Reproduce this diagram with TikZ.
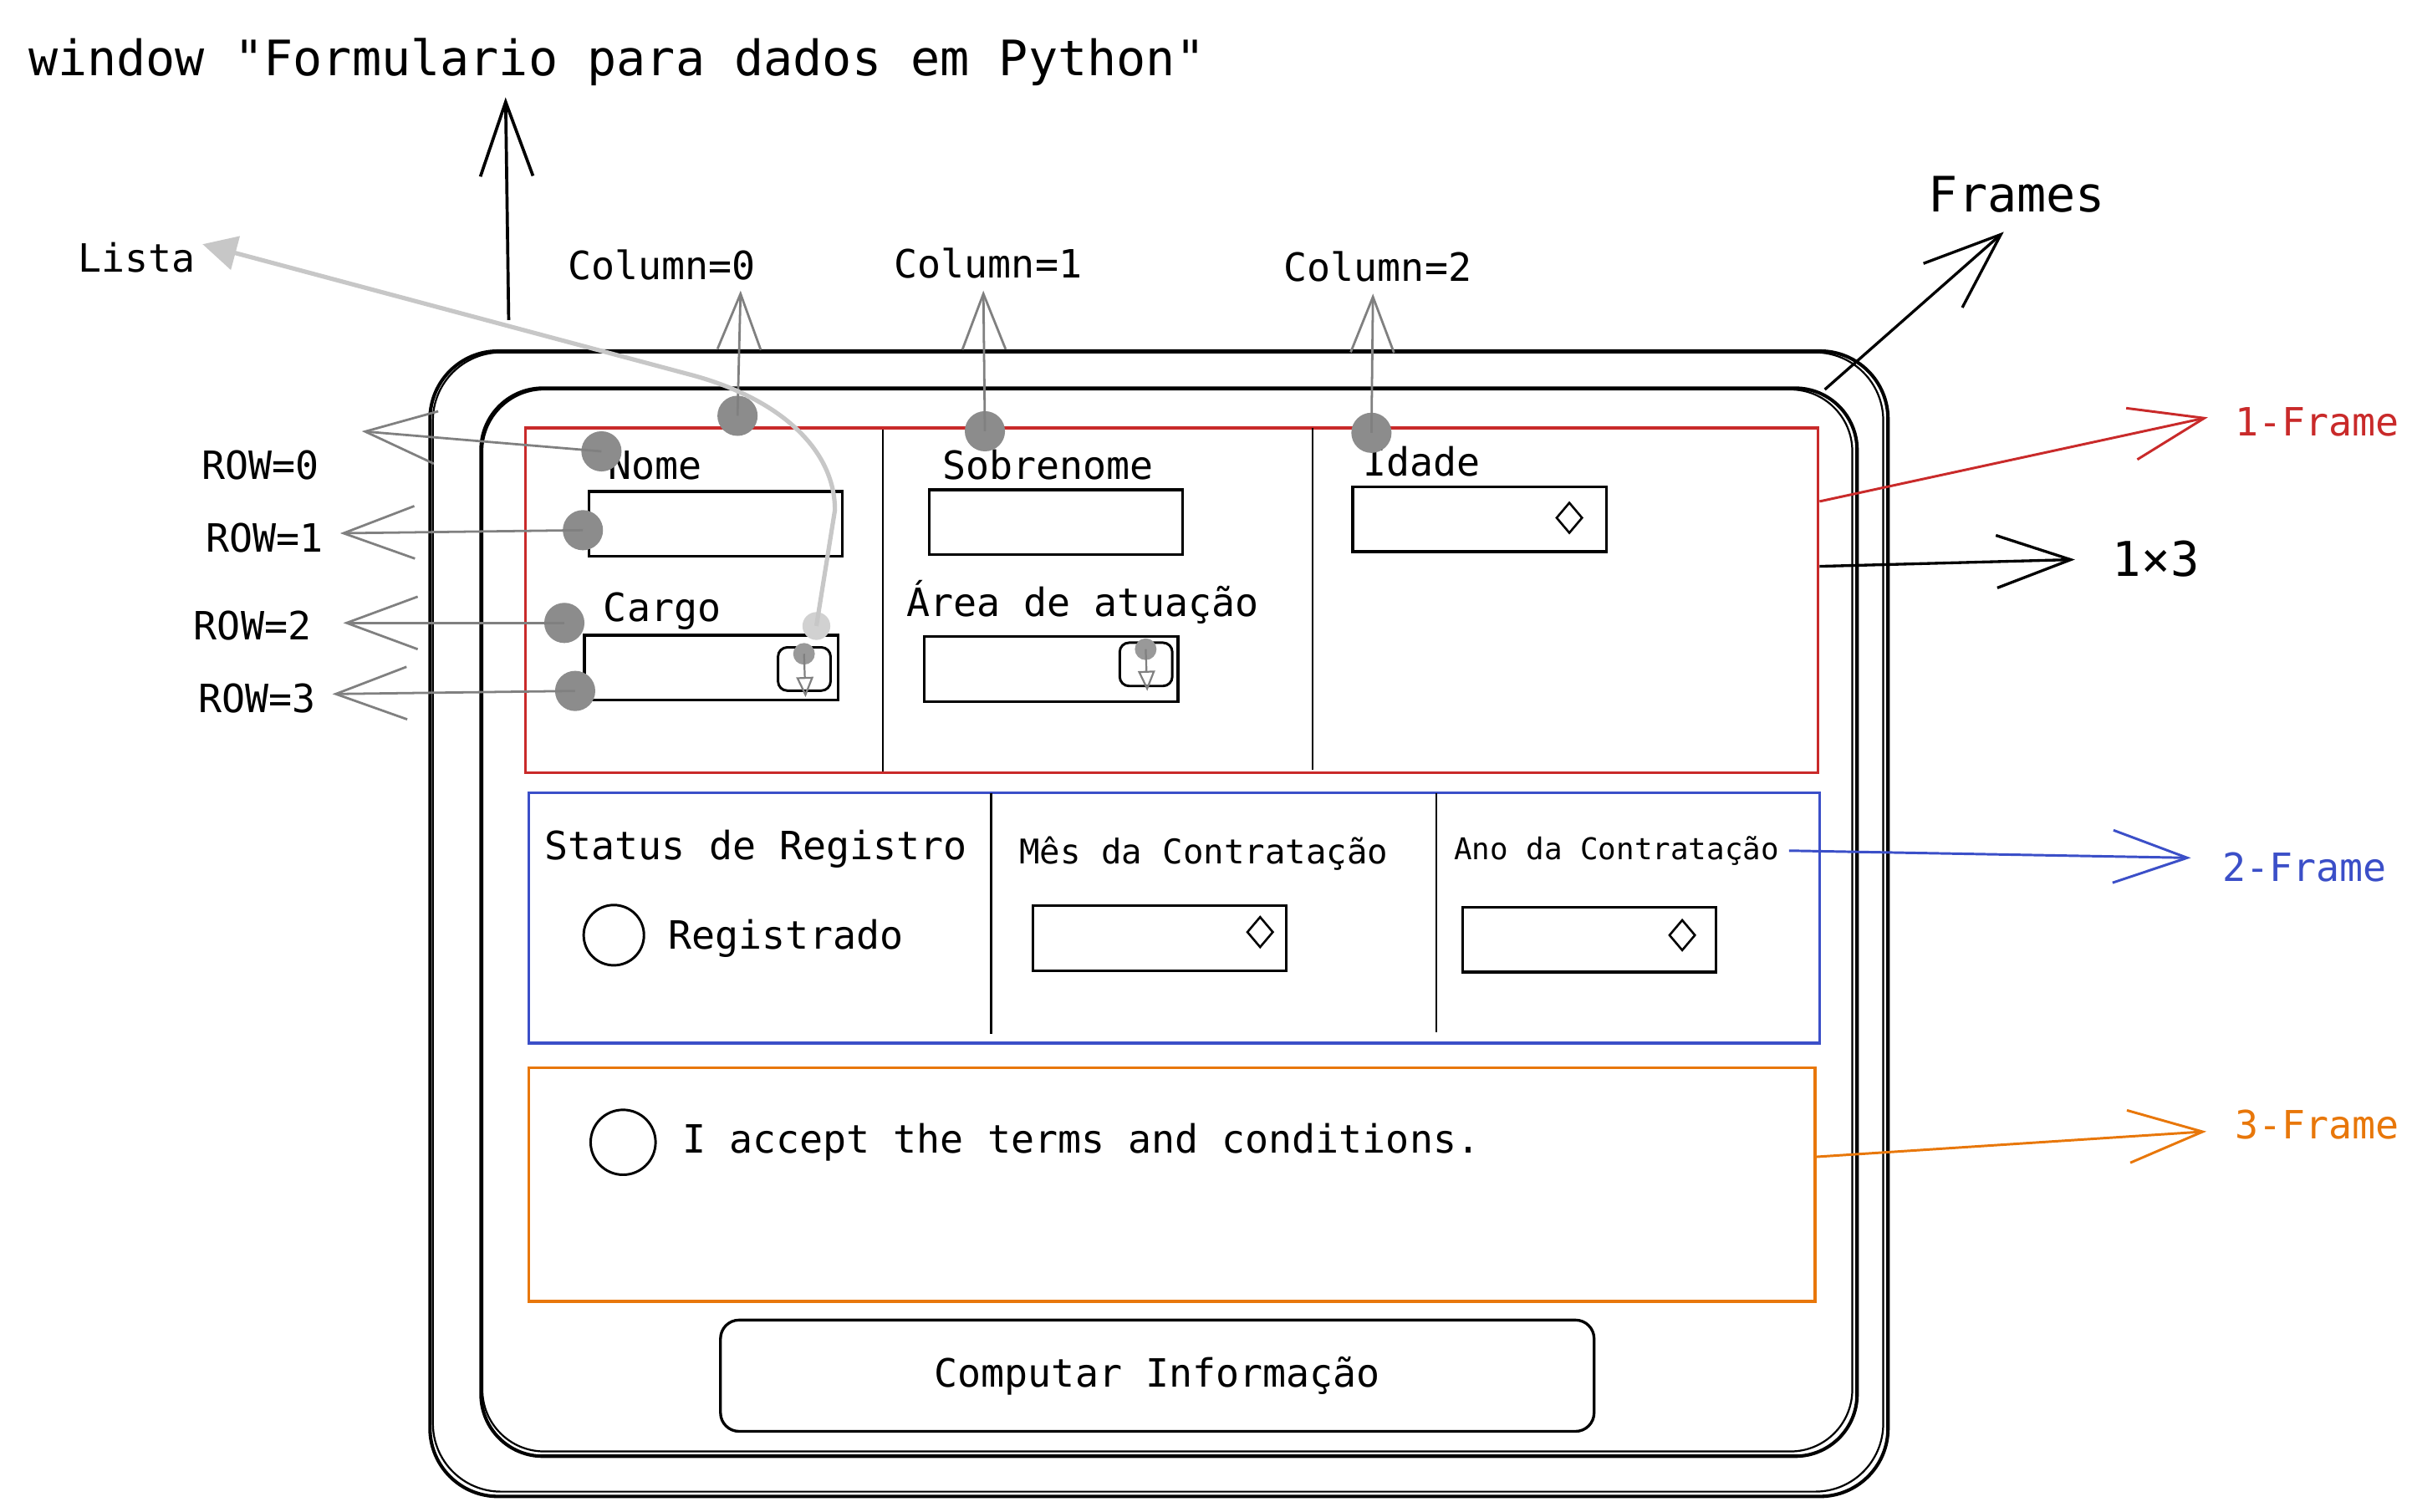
\documentclass[tikz,border=0pt]{standalone}
\usepackage{fontspec}
\setmainfont{DejaVu Sans Mono}[Ligatures=TeXOff]
\usetikzlibrary{arrows.meta,shapes.geometric}

\definecolor{redframe}{HTML}{C92A2A}
\definecolor{blueframe}{HTML}{3B4FC8}
\definecolor{orangeframe}{HTML}{E8770A}

\tikzset{
  window/.style={draw,line width=1.1pt,rounded corners=22pt,anchor=north west},
  frame/.style={draw=#1,line width=0.9pt,anchor=north west},
  ptr/.style={draw=black!50,line width=0.75pt,-{Straight Barb[length=18pt,width=14pt]}},
  row ptr/.style={draw=black!50,line width=0.75pt,-{Straight Barb[length=23pt,width=17pt]}},
  big ptr/.style={draw=#1,line width=0.9pt,-{Straight Barb[length=24pt,width=17pt]}}
}

\begin{document}
\begin{tikzpicture}[x=0.5pt, y=-0.5pt, every node/.style={inner sep=0pt}]
        \tikzstyle{txt}=[anchor=base west,font=\fontsize{12.6}{15}\selectfont]
        \tikzstyle{field}=[draw,line width=0.9pt,anchor=north west,minimum width=82pt,minimum height=21pt]
        \tikzstyle{drop}=[draw,line width=0.8pt,rounded corners=3pt,anchor=north east,minimum width=17pt,minimum height=14pt]
        \tikzstyle{spin}=[diamond,draw,line width=0.7pt,minimum width=8.5pt,minimum height=10pt]
        \tikzstyle{knob}=[circle,fill=black!45,minimum size=13pt]
        \tikzstyle{small knob}=[circle,fill=black!40,minimum size=7pt]
        \tikzstyle{radio}=[circle,draw,line width=0.8pt]

        \path[fill=white] (0,0) rectangle (1560,978);

        % window and frames
        \node[window,minimum width=471.5pt,minimum height=370.5pt] (W_out) at (277,226) {};
        \draw[line width=0.6pt,rounded corners=22pt] (280,228) rectangle (1218,965);
        \node[window,rounded corners=20pt,minimum width=445pt,minimum height=345.5pt] (W_in) at (310,250) {};
        \draw[line width=0.6pt,rounded corners=20pt] (312,252) rectangle (1198,939);

        \node[frame=redframe,minimum width=418pt,minimum height=111.5pt] (F_1) at (339,276) {};
        \node[frame=blueframe,minimum width=417.5pt,minimum height=81pt] (F_2) at (341,512) {};
        \node[frame=orangeframe,minimum width=416pt,minimum height=75.5pt] (F_3) at (341,690) {};
        \draw[line width=0.6pt] (571,278) -- (571,499);
        \draw[line width=0.6pt] (849,277) -- (849,498);
        \draw[line width=0.6pt] (641,513) -- (641,669);
        \draw[line width=0.6pt] (929,513) -- (929,668);

        % 1-Frame
        \node[txt] (L_nome) at (393,310) {Nome};
        \node[field] (E_nome) at (380,317) {};
        \node[txt] (L_cargo) at (390,402) {Cargo};
        \node[field] (E_cargo) at (377,410) {};
        \node[drop] (D_cargo) at (538,418) {};
        \node[txt] (L_sobre) at (609,310) {Sobrenome};
        \node[field] (E_sobre) at (600,316) {};
        \node[txt] (L_area) at (586,399) {Área de atuação};
        \node[field] (E_area) at (597,411) {};
        \node[drop] (D_area) at (759,415) {};
        \node[txt] (L_idade) at (881,308) {Idade};
        \node[field] (E_idade) at (874,314) {};
        \node[spin] (S_idade) at (1015,335) {};

        % 2-Frame
        \node[txt] (L_status) at (352,556) {Status de Registro};
        \node[radio,minimum size=19.5pt] (C_reg) at (397,605) {};
        \node[txt] (L_reg) at (432,614) {Registrado};
        \node[txt,font=\fontsize{11}{13}\selectfont] (L_mes) at (659,559) {Mês da Contratação};
        \node[field] (E_mes) at (667,585) {};
        \node[spin] (S_mes) at (815,603) {};
        \node[txt,font=\fontsize{9.7}{12}\selectfont] (L_ano) at (940,556) {Ano da Contratação};
        \node[field] (E_ano) at (945,586) {};
        \node[spin] (S_ano) at (1088,605) {};

        % 3-Frame and button
        \node[radio,minimum size=21pt] (C_terms) at (403,739) {};
        \node[txt] (L_terms) at (441,746) {I accept the terms and conditions.};
        \node[draw,line width=0.9pt,rounded corners=6pt,minimum width=282.5pt,minimum height=36pt,font=\fontsize{12.6}{15}\selectfont] (B_comp) at (748.5,890) {Computar Informação};

        % title and window pointer
        \node[txt,font=\fontsize{15.8}{19}\selectfont] (T_win) at (18,49) {window "Formulario para dados em Python"};
        \coordinate (T_base) at (329,207);
        \coordinate (T_tip) at (327,63);
        \draw[big ptr=black,line width=1pt] (T_base) -- (T_tip);

        % columns
        \node[txt] (L_col0) at (367,181) {Column=0};
        \node[txt] (L_col1) at (578,180) {Column=1};
        \node[txt] (L_col2) at (830,182) {Column=2};
        \node[knob] (C_0) at (477,269) {};
        \node[knob] (C_1) at (637,279) {};
        \node[knob] (C_2) at (887,280) {};
        \coordinate (C_0_tip) at (479,188);
        \coordinate (C_1_tip) at (636,188);
        \coordinate (C_2_tip) at (888,190);
        \draw[ptr] (C_0.center) -- (C_0_tip);
        \draw[ptr] (C_1.center) -- (C_1_tip);
        \draw[ptr] (C_2.center) -- (C_2_tip);

        % rows
        \node[txt] (L_row0) at (130,310) {ROW=0};
        \node[txt] (L_row1) at (133,357) {ROW=1};
        \node[txt] (L_row2) at (125,414) {ROW=2};
        \node[txt] (L_row3) at (128,461) {ROW=3};
        \node[knob] (R_0) at (389,292) {};
        \node[knob] (R_1) at (377,343) {};
        \node[knob] (R_2) at (365,403) {};
        \node[knob] (R_3) at (372,447) {};
        \coordinate (R_0_tip) at (234,279);
        \coordinate (R_1_tip) at (220,345);
        \coordinate (R_2_tip) at (222,403);
        \coordinate (R_3_tip) at (215,449);
        \draw[row ptr] (R_0.center) -- (R_0_tip);
        \draw[row ptr] (R_1.center) -- (R_1_tip);
        \draw[row ptr] (R_2.center) -- (R_2_tip);
        \draw[row ptr] (R_3.center) -- (R_3_tip);

        % lista
        \node[txt] (L_lista) at (50,176) {Lista};
        \node[circle,fill=black!18,minimum size=9pt] (L_blob) at (528,405) {};
        \coordinate (L_tip) at (131,158);
        \draw[draw=black!22,line width=1.4pt,-{Triangle[length=11pt,width=11pt,fill=black!22]}] (L_blob.center) -- (540,330) .. controls (540,290) and (503,257) .. (445,242) -- (L_tip);
        \node[small knob] (K_cargo) at (520,423) {};
        \node[small knob] (K_area) at (741,420) {};
        \coordinate (K_cargo_tip) at (521,451);
        \coordinate (K_area_tip) at (742,447);
        \draw[draw=black!50,line width=0.6pt,-{Triangle[open,length=6.5pt,width=5.5pt]}] (K_cargo.center) -- (K_cargo_tip);
        \draw[draw=black!50,line width=0.6pt,-{Triangle[open,length=6.5pt,width=5.5pt]}] (K_area.center) -- (K_area_tip);

        % frames
        \node[txt,font=\fontsize{15.8}{19}\selectfont] (L_frames) at (1247,137) {Frames};
        \coordinate (L_frames_tip) at (1296,150);
        \draw[big ptr=black,-{Straight Barb[length=25pt,width=19pt]}] ([shift={(-11pt,-1pt)}]W_in.north east) -- (L_frames_tip);

        \node[txt,text=redframe] (L_f1) at (1445,282) {1-Frame};
        \coordinate (L_f1_tip) at (1428,270);
        \draw[big ptr=redframe,line width=0.8pt] ([yshift=32pt]F_1.east) -- (L_f1_tip);

        \node[txt,font=\fontsize{15.5}{19}\selectfont] (L_dim) at (1366,373) {1×3};
        \coordinate (L_dim_tip) at (1342,362);
        \draw[big ptr=black] ([yshift=11pt]F_1.east) -- (L_dim_tip);

        \node[txt,text=blueframe] (L_f2) at (1437,570) {2-Frame};
        \coordinate (L_f2_tip) at (1417,555);
        \draw[big ptr=blueframe,line width=0.8pt] ([xshift=3pt]L_ano.east) -- (L_f2_tip);

        \node[txt,text=orangeframe] (L_f3) at (1445,737) {3-Frame};
        \coordinate (L_f3_tip) at (1427,732);
        \draw[big ptr=orangeframe,line width=0.8pt] ([yshift=9pt]F_3.east) -- (L_f3_tip);
    \end{tikzpicture}
\end{document}
